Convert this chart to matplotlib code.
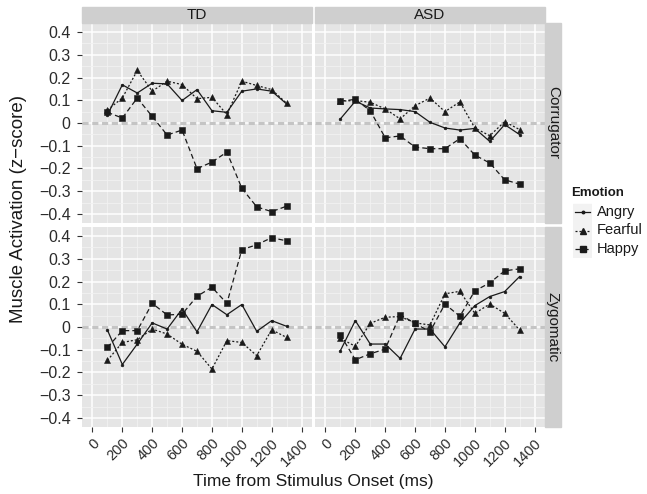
import matplotlib
matplotlib.use("Agg")
import matplotlib.pyplot as plt
from matplotlib.patches import Rectangle
from matplotlib.lines import Line2D
import numpy as np

plt.rcParams['font.family'] = ['Liberation Sans', 'DejaVu Sans']

time_ms = [100, 200, 300, 400, 500, 600, 700, 800, 900, 1000, 1100, 1200, 1300]
groups = ["TD", "ASD"]
muscles = ["Corrugator", "Zygomatic"]
emotions = ["Angry", "Fearful", "Happy"]

# TD / Corrugator
td_cor_angry   = [0.035, 0.168, 0.132, 0.175, 0.172, 0.099, 0.147, 0.054, 0.047, 0.140, 0.150, 0.140, 0.084]
td_cor_fearful = [0.057, 0.110, 0.231, 0.140, 0.184, 0.169, 0.107, 0.113, 0.037, 0.184, 0.165, 0.147, 0.087]
td_cor_happy   = [0.047, 0.022, 0.110, 0.029, -0.053, -0.031, -0.201, -0.172, -0.128, -0.287, -0.369, -0.390, -0.366]
# ASD / Corrugator
asd_cor_angry   = [0.018, 0.096, 0.066, 0.062, 0.059, 0.050, 0.003, -0.022, -0.031, -0.024, -0.081, -0.007, -0.051]
asd_cor_fearful = [0.096, 0.099, 0.091, 0.062, 0.018, 0.076, 0.110, 0.050, 0.093, -0.022, -0.056, 0.006, -0.029]
asd_cor_happy   = [0.096, 0.104, 0.054, -0.065, -0.057, -0.106, -0.113, -0.113, -0.069, -0.141, -0.176, -0.250, -0.269]
# TD / Zygomatic
td_zyg_angry   = [-0.013, -0.165, -0.075, 0.018, -0.009, 0.079, -0.021, 0.099, 0.054, 0.099, -0.019, 0.028, 0.003]
td_zyg_fearful = [-0.147, -0.068, -0.056, -0.009, -0.031, -0.076, -0.107, -0.185, -0.060, -0.068, -0.126, -0.012, -0.046]
td_zyg_happy   = [-0.090, -0.016, -0.016, 0.104, 0.053, 0.056, 0.135, 0.175, 0.104, 0.340, 0.362, 0.393, 0.379]
# ASD / Zygomatic
asd_zyg_angry   = [-0.104, 0.028, -0.075, -0.075, -0.138, -0.009, -0.009, -0.087, 0.018, 0.094, 0.134, 0.156, 0.222]
asd_zyg_fearful = [-0.050, -0.085, 0.016, 0.043, 0.046, 0.018, 0.009, 0.146, 0.157, 0.060, 0.101, 0.060, -0.013]
asd_zyg_happy   = [-0.035, -0.144, -0.118, -0.097, 0.054, 0.016, -0.021, 0.101, 0.047, 0.159, 0.194, 0.247, 0.256]

panel_data = {
    ("Corrugator", "TD"): [td_cor_angry, td_cor_fearful, td_cor_happy],
    ("Corrugator", "ASD"): [asd_cor_angry, asd_cor_fearful, asd_cor_happy],
    ("Zygomatic", "TD"): [td_zyg_angry, td_zyg_fearful, td_zyg_happy],
    ("Zygomatic", "ASD"): [asd_zyg_angry, asd_zyg_fearful, asd_zyg_happy],
}

x_ticks = [0, 200, 400, 600, 800, 1000, 1200, 1400]
y_ticks = [0.4, 0.3, 0.2, 0.1, 0, -0.1, -0.2, -0.3, -0.4]
y_tick_labels = ["0.4", "0.3", "0.2", "0.1", "0", "\u22120.1", "\u22120.2", "\u22120.3", "\u22120.4"]

styles = {
    "Angry": dict(ls="-", marker="o", ms=2.0),
    "Fearful": dict(ls=(0, (1.6, 1.6)), marker="^", ms=4.8),
    "Happy": dict(ls=(0, (4.0, 2.5)), marker="s", ms=4.5),
}

W, H = 647, 494
fig = plt.figure(figsize=(W / 100, H / 100), dpi=100)

def fx(px):
    return px / W

def fy(py):
    return 1 - py / H

panel_x = {"TD": (82, 312), "ASD": (315, 545)}
panel_y = {"Corrugator": (23, 223), "Zygomatic": (227, 427)}

BG = "#E5E5E5"
STRIP = "#CFCFCF"
TXT = "#2b2b2b"

for (muscle, group), series in panel_data.items():
    x0, x1 = panel_x[group]
    y0, y1 = panel_y[muscle]
    ax = fig.add_axes([fx(x0), fy(y1), fx(x1 - x0), (y1 - y0) / H])
    ax.set_facecolor(BG)
    for s in ax.spines.values():
        s.set_visible(False)
    ax.set_xlim(-70, 1470)
    ax.set_ylim(-0.44, 0.44)
    ax.set_xticks(x_ticks)
    ax.set_xticks([100, 300, 500, 700, 900, 1100, 1300], minor=True)
    ax.set_yticks(y_ticks)
    ax.set_yticks([0.35, 0.25, 0.15, 0.05, -0.05, -0.15, -0.25, -0.35], minor=True)
    ax.grid(which="major", color="white", lw=1.1)
    ax.grid(which="minor", color="#F2F2F2", lw=0.6)
    ax.set_axisbelow(True)
    ax.tick_params(which="minor", length=0)
    ax.tick_params(which="major", length=3.6, width=0.8, color="#333333",
                   labelsize=11.5, labelcolor=TXT, pad=4.5)
    if group == "TD":
        ax.set_yticklabels(y_tick_labels)
    else:
        ax.tick_params(axis="y", which="major", length=0, labelleft=False)
    if muscle == "Zygomatic":
        ax.set_xticklabels([str(t) for t in x_ticks], rotation=45, ha="right",
                           va="top", rotation_mode="anchor")
        ax.tick_params(axis="x", pad=3.0, labelsize=10.5)
    else:
        ax.tick_params(axis="x", which="major", length=0, labelbottom=False)
    ax.axhline(0, color="#C4C4C4", lw=2.2, ls=(0, (2.0, 1.2)), zorder=1.5)
    for emo, vals in zip(emotions, series):
        st = styles[emo]
        ax.plot(time_ms, vals, color="#1a1a1a", lw=0.9, ls=st["ls"],
                marker=st["marker"], ms=st["ms"], mec="#1a1a1a", mfc="#1a1a1a",
                mew=0.4, zorder=3)

# Top strips
for group in groups:
    x0, x1 = panel_x[group]
    fig.patches.append(Rectangle((fx(x0), fy(22.7)), fx(x1 - x0), (22.7 - 7) / H,
                                 transform=fig.transFigure, color=STRIP, zorder=0))
    fig.text(fx((x0 + x1) / 2), fy(14.8), group, ha="center", va="center",
             fontsize=11, color="#1a1a1a")

# Right strips
for muscle in muscles:
    y0, y1 = panel_y[muscle]
    fig.patches.append(Rectangle((fx(545), fy(y1)), fx(16), (y1 - y0) / H,
                                 transform=fig.transFigure, color=STRIP, zorder=0))
    fig.text(fx(553), fy((y0 + y1) / 2), muscle, ha="center", va="center",
             rotation=-90, fontsize=11, color="#1a1a1a")

# Axis titles
fig.text(fx(313.5), fy(481), "Time from Stimulus Onset (ms)", ha="center",
         va="center", fontsize=12.5, color="#1a1a1a")
fig.text(fx(19), fy(209), "Muscle Activation (z\u2212score)", ha="center",
         va="center", rotation=90, fontsize=13.5, color="#1a1a1a")

# Legend
fig.text(fx(571), fy(193.5), "Emotion", ha="left", va="center", fontsize=9.5,
         fontweight="bold", color="#1a1a1a")
lax = fig.add_axes([fx(573), fy(258), fx(19), 55 / H])
lax.set_xlim(0, 1)
lax.set_ylim(0, 3)
lax.axis("off")
row_y = {"Angry": 2.5, "Fearful": 1.5, "Happy": 0.5}
for emo in emotions:
    yc = row_y[emo]
    lax.add_patch(Rectangle((0.02, yc - 0.47), 0.96, 0.94, color="#F2F2F2", zorder=0))
    st = styles[emo]
    lax.add_line(Line2D([0.1, 0.5, 0.9], [yc, yc, yc], color="#1a1a1a", lw=0.9,
                        ls=st["ls"], zorder=2))
    lax.add_line(Line2D([0.5], [yc], color="#1a1a1a", marker=st["marker"],
                        ms=st["ms"] * 0.9, mfc="#1a1a1a", mec="#1a1a1a", zorder=3))
    fig.text(fx(597), fy(258 - (yc / 3) * 55), emo, ha="left", va="center",
             fontsize=10.5, color="#1a1a1a")

fig.savefig("out.png", dpi=100)
